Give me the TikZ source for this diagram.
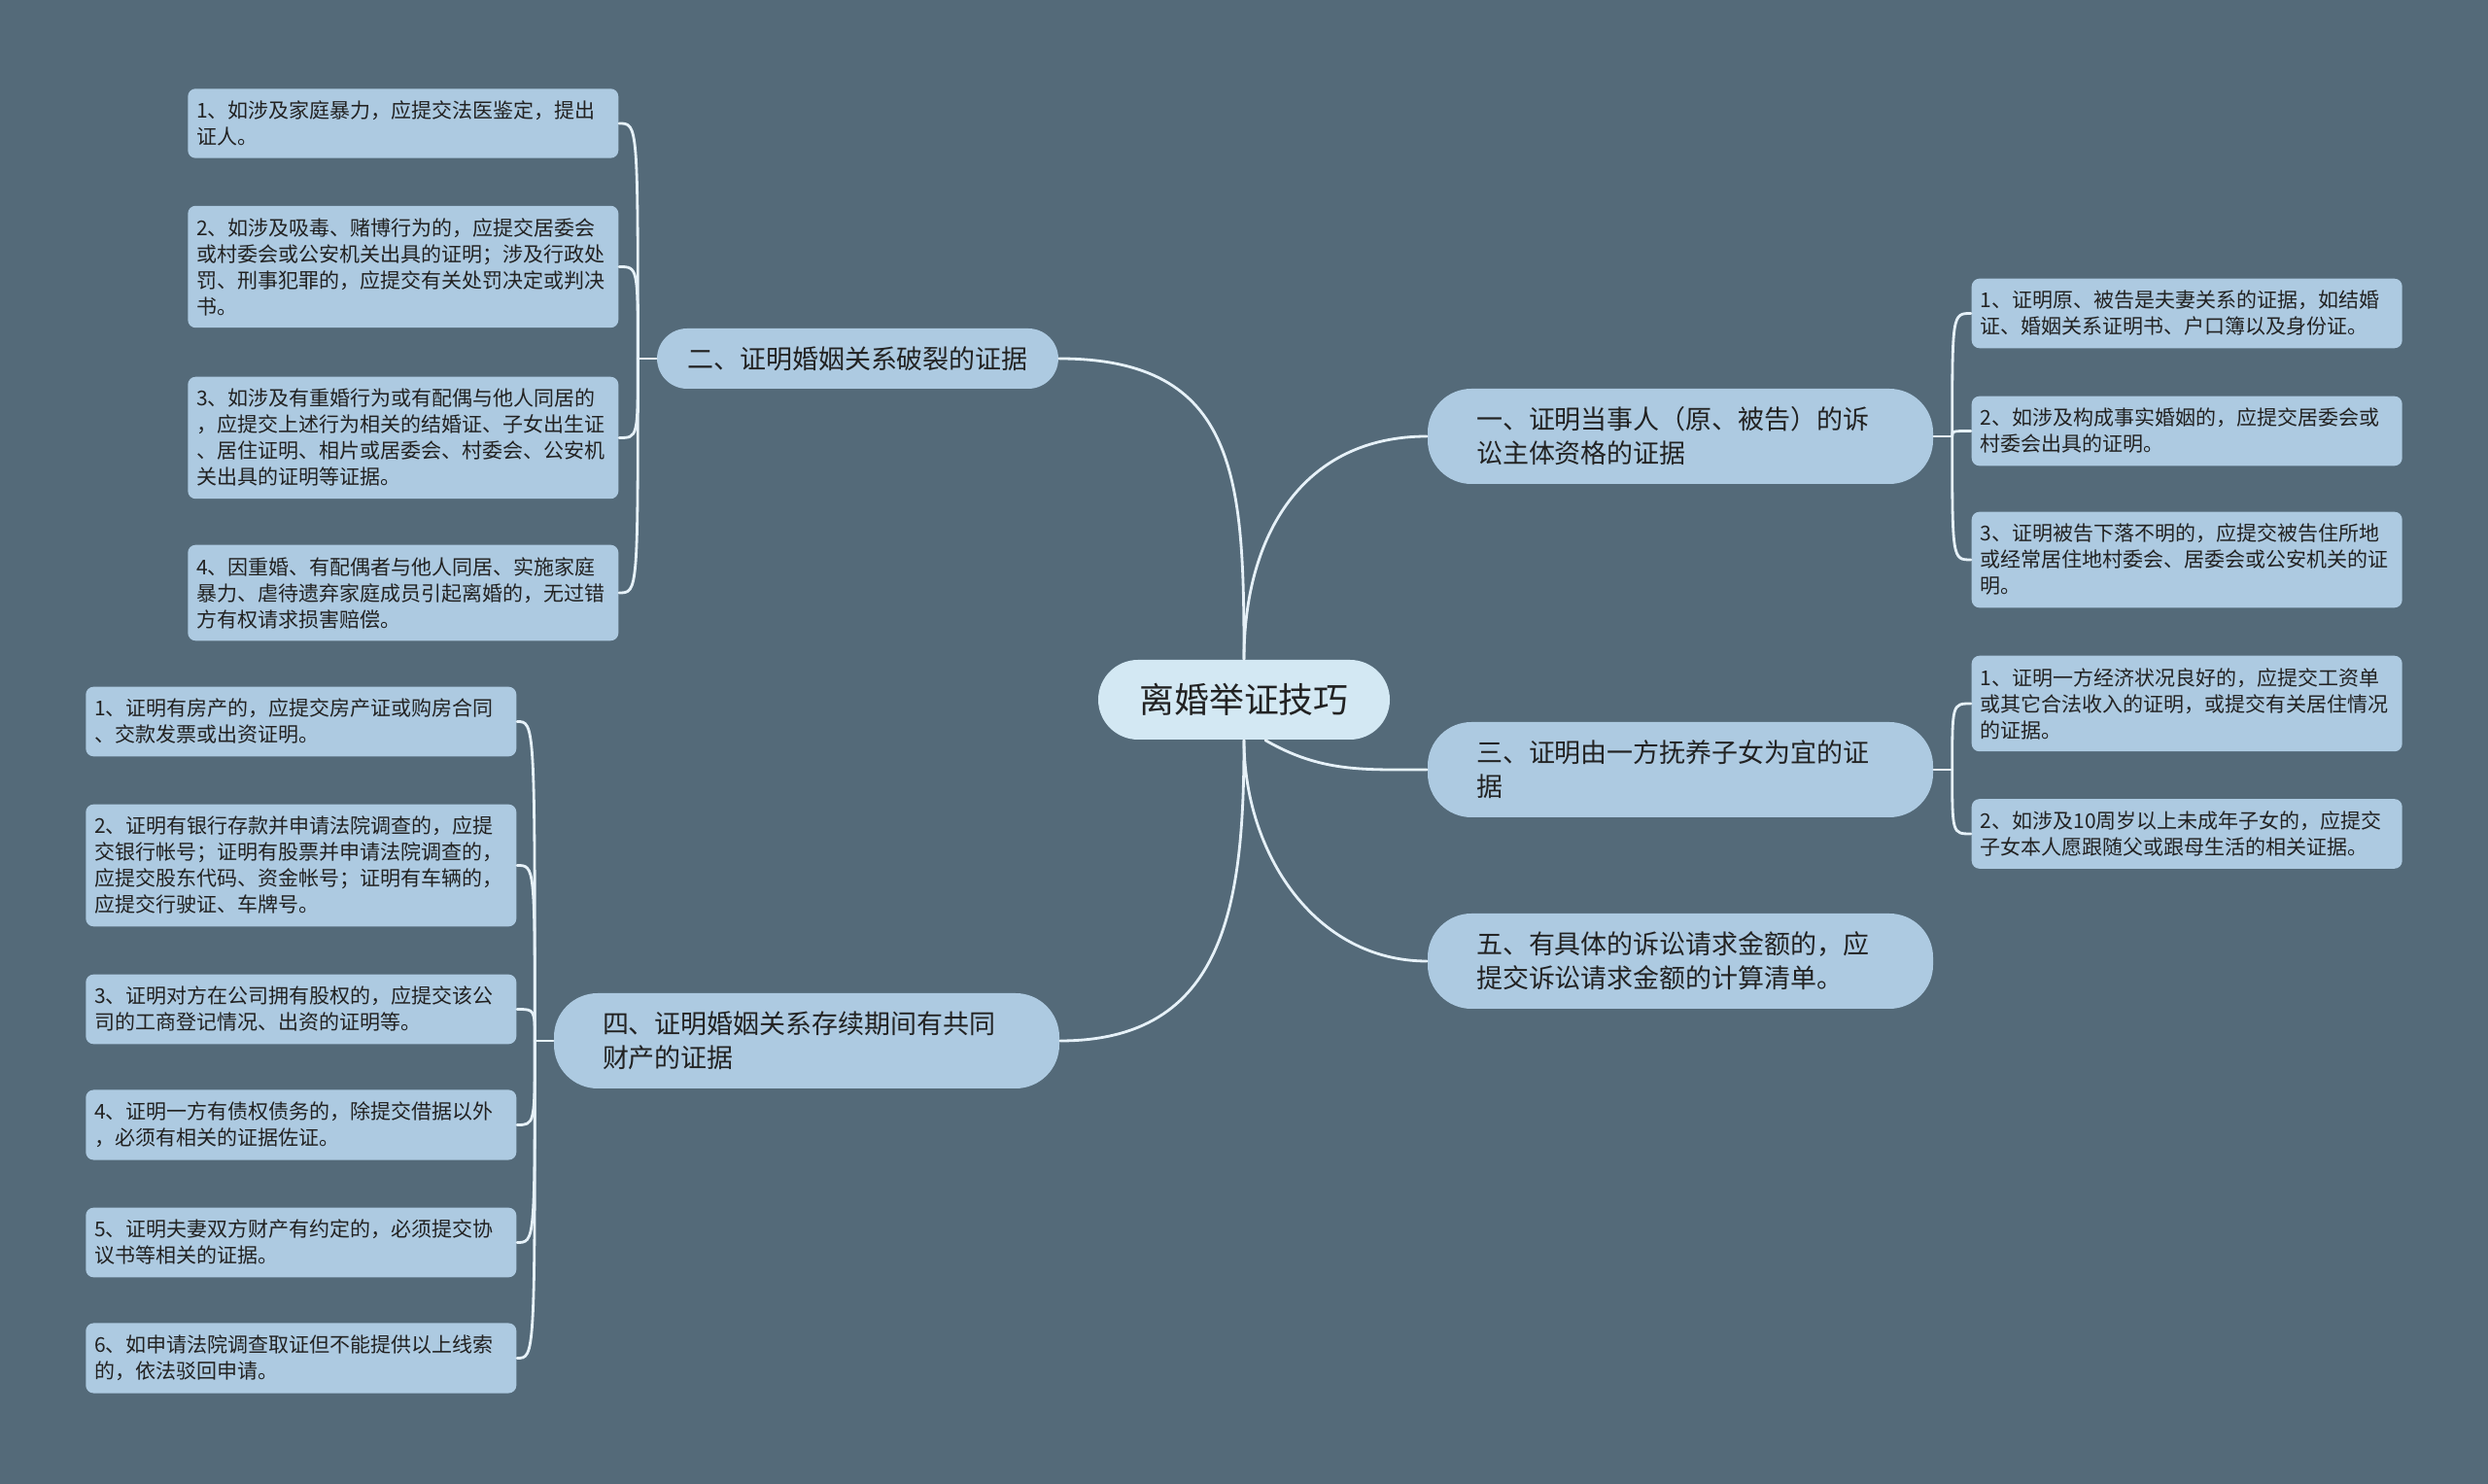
\documentclass[tikz,border=0pt]{standalone}
\usepackage{fontspec}
\newfontfamily\cjk{Noto Sans CJK SC}
\definecolor{bgcol}{HTML}{546A79}
\definecolor{leafcol}{HTML}{ADCAE1}
\definecolor{rootcol}{HTML}{D3E8F3}
\definecolor{linkcol}{HTML}{E6F1F8}
\definecolor{txtcol}{HTML}{222222}

\begin{document}
\begin{tikzpicture}[
  rootbox/.style={rectangle,rounded corners=0.41cm,fill=rootcol,text=txtcol,minimum width=3cm,minimum height=0.82cm,font=\fontsize{10.2pt}{12pt}\selectfont\cjk},
  branch/.style={rectangle,rounded corners=0.45cm,fill=leafcol,text=txtcol,minimum width=5.2cm,minimum height=0.98cm,text width=4.2cm,align=left,font=\fontsize{7.68pt}{9.96pt}\selectfont\cjk},
  leaf/.style={rectangle,rounded corners=0.08cm,fill=leafcol,text=txtcol,text width=4.25cm,inner xsep=0.09cm,inner ysep=0.125cm,align=left,font=\fontsize{5.975pt}{7.68pt}\selectfont\cjk},
  link/.style={draw=linkcol,line width=0.8pt,line cap=round}
]
\fill[bgcol] (0,0) rectangle (25.6,15.27);

% centre and main branches
\node[rootbox] (root) at (12.80,8.07) {离婚举证技巧};
\node[branch] (b1) at (17.29,10.78) {一、证明当事人（原、被告）的诉\\讼主体资格的证据};
\node[branch,text width=,minimum width=0pt,minimum height=0.62cm,inner xsep=0.31cm,rounded corners=0.31cm] (b2) at (8.825,11.58) {二、证明婚姻关系破裂的证据};
\node[branch] (b3) at (17.29,7.35) {三、证明由一方抚养子女为宜的证\\据};
\node[branch] (b4) at (8.30,4.56) {四、证明婚姻关系存续期间有共同\\财产的证据};
\node[branch] (b5) at (17.29,5.38) {五、有具体的诉讼请求金额的，应\\提交诉讼请求金额的计算清单。};

% leaves
\node[leaf,anchor=west] (l11) at (20.28,12.045) {1、证明原、被告是夫妻关系的证据，如结婚\\证、婚姻关系证明书、户口簿以及身份证。};
\node[leaf,anchor=west] (l12) at (20.28,10.835) {2、如涉及构成事实婚姻的，应提交居委会或\\村委会出具的证明。};
\node[leaf,anchor=west] (l13) at (20.28,9.51) {3、证明被告下落不明的，应提交被告住所地\\或经常居住地村委会、居委会或公安机关的证\\明。};
\node[leaf,anchor=west] (l31) at (20.28,8.03) {1、证明一方经济状况良好的，应提交工资单\\或其它合法收入的证明，或提交有关居住情况\\的证据。};
\node[leaf,anchor=west] (l32) at (20.28,6.69) {2、如涉及10周岁以上未成年子女的，应提交\\子女本人愿跟随父或跟母生活的相关证据。};

\node[leaf,anchor=east] (l21) at (6.37,14.00) {1、如涉及家庭暴力，应提交法医鉴定，提出\\证人。};
\node[leaf,anchor=east] (l22) at (6.37,12.525) {2、如涉及吸毒、赌博行为的，应提交居委会\\或村委会或公安机关出具的证明；涉及行政处\\罚、刑事犯罪的，应提交有关处罚决定或判决\\书。};
\node[leaf,anchor=east] (l23) at (6.37,10.765) {3、如涉及有重婚行为或有配偶与他人同居的\\，应提交上述行为相关的结婚证、子女出生证\\、居住证明、相片或居委会、村委会、公安机\\关出具的证明等证据。};
\node[leaf,anchor=east] (l24) at (6.37,9.17) {4、因重婚、有配偶者与他人同居、实施家庭\\暴力、虐待遗弃家庭成员引起离婚的，无过错\\方有权请求损害赔偿。};

\node[leaf,anchor=east] (l41) at (5.32,7.845) {1、证明有房产的，应提交房产证或购房合同\\、交款发票或出资证明。};
\node[leaf,anchor=east] (l42) at (5.32,6.365) {2、证明有银行存款并申请法院调查的，应提\\交银行帐号；证明有股票并申请法院调查的，\\应提交股东代码、资金帐号；证明有车辆的，\\应提交行驶证、车牌号。};
\node[leaf,anchor=east] (l43) at (5.32,4.885) {3、证明对方在公司拥有股权的，应提交该公\\司的工商登记情况、出资的证明等。};
\node[leaf,anchor=east] (l44) at (5.32,3.695) {4、证明一方有债权债务的，除提交借据以外\\，必须有相关的证据佐证。};
\node[leaf,anchor=east] (l45) at (5.32,2.485) {5、证明夫妻双方财产有约定的，必须提交协\\议书等相关的证据。};
\node[leaf,anchor=east] (l46) at (5.32,1.295) {6、如申请法院调查取证但不能提供以上线索\\的，依法驳回申请。};

% root to branches
\draw[link] (root.north) to[out=90,in=180,looseness=1.1] (b1.west);
\draw[link] (root.north) to[out=90,in=0,looseness=1.3] (b2.east);
\draw[link] ([xshift=0.22cm]root.south) to[out=-30,in=180] (b3.west);
\draw[link] (root.south) to[out=-90,in=0,looseness=1.2] (b4.east);
\draw[link] (root.south) to[out=-90,in=180] (b5.west);

% branches to leaves
\draw[link] (b1.east) -- ++(0.19,0) coordinate (j1);
\draw[link] (j1) .. controls (j1 |- l11.west) .. (l11.west);
\draw[link] (j1) .. controls (j1 |- l12.west) .. (l12.west);
\draw[link] (j1) .. controls (j1 |- l13.west) .. (l13.west);
\draw[link] (b3.east) -- ++(0.19,0) coordinate (j3);
\draw[link] (j3) .. controls (j3 |- l31.west) .. (l31.west);
\draw[link] (j3) .. controls (j3 |- l32.west) .. (l32.west);
\draw[link] (b2.west) -- ++(-0.19,0) coordinate (j2);
\draw[link] (j2) .. controls (j2 |- l21.east) .. (l21.east);
\draw[link] (j2) .. controls (j2 |- l22.east) .. (l22.east);
\draw[link] (j2) .. controls (j2 |- l23.east) .. (l23.east);
\draw[link] (j2) .. controls (j2 |- l24.east) .. (l24.east);
\draw[link] (b4.west) -- ++(-0.19,0) coordinate (j4);
\draw[link] (j4) .. controls (j4 |- l41.east) .. (l41.east);
\draw[link] (j4) .. controls (j4 |- l42.east) .. (l42.east);
\draw[link] (j4) .. controls (j4 |- l43.east) .. (l43.east);
\draw[link] (j4) .. controls (j4 |- l44.east) .. (l44.east);
\draw[link] (j4) .. controls (j4 |- l45.east) .. (l45.east);
\draw[link] (j4) .. controls (j4 |- l46.east) .. (l46.east);

\end{tikzpicture}
\end{document}
